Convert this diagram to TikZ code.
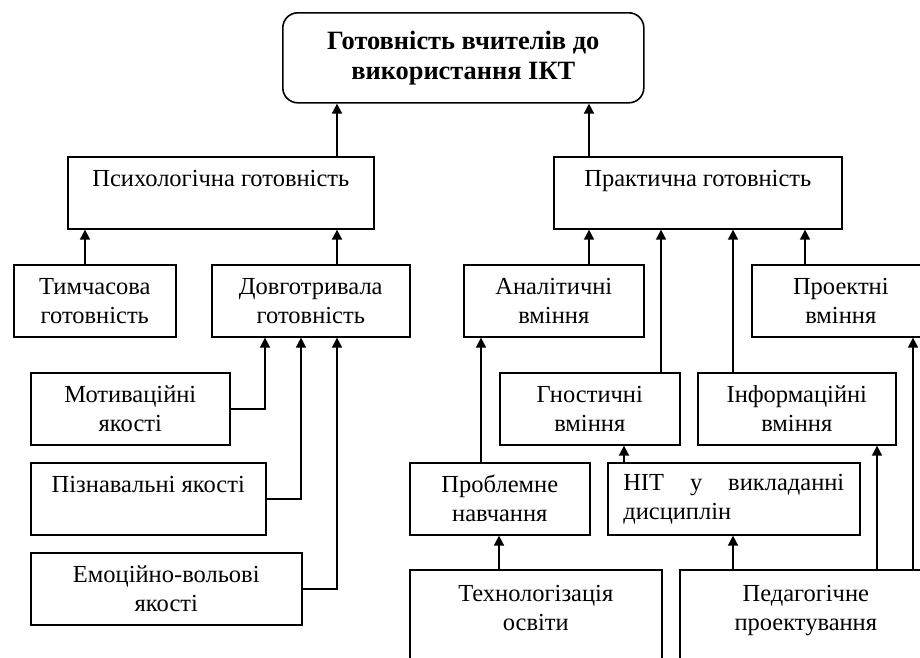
\documentclass[tikz,border=0pt]{standalone}
\usepackage{fontspec}
\setmainfont{Liberation Serif}
\usetikzlibrary{positioning}
\usetikzlibrary{arrows.meta}

\begin{document}
\begin{tikzpicture}[x=1pt,y=-1pt,
	blk/.style={draw, line width=1.6pt, anchor=north west, align=center, inner sep=0pt, font=\fontsize{24.5}{29}\selectfont},
	arr/.style={-{Triangle[length=10pt,width=10pt]}, line width=1.6pt}]
	    \useasboundingbox (0,0) rectangle (920,657);
	    \clip (0,0) rectangle (920,657);
	    \node(top) [blk, rounded corners=15pt, minimum width=361pt, minimum height=90pt, font=\bfseries\fontsize{26.4}{30}\selectfont] at (282,12) {Готовність вчителів до\\використання ІКТ};
	    \node(psych) [blk, minimum width=306pt, minimum height=72pt] at (67,156) {Психологічна готовність\\~};
	    \node(pract) [blk, minimum width=288pt, minimum height=72pt] at (553,156) {Практична готовність\\~};
	    \node(tymch) [blk, minimum width=162pt, minimum height=72pt] at (13,264) {Тимчасова\\готовність};
	    \node(dovh) [blk, minimum width=198pt, minimum height=72pt] at (211,264) {Довготривала\\готовність};
	    \node(motyv) [blk, minimum width=199pt, minimum height=72pt] at (30,372) {Мотиваційні\\якості};
	    \node(pizn) [blk, minimum width=235pt, minimum height=72pt] at (30,462) {Пізнавальні якості\\~};
	    \node(emoc) [blk, minimum width=271pt, minimum height=72pt] at (30,552) {Емоційно-вольові\\якості};
	    \node(anal) [blk, minimum width=180pt, minimum height=72pt] at (463,264) {Аналітичні\\вміння};
	    \node(proekt) [blk, minimum width=178pt, minimum height=72pt] at (751,264) {Проектні\\вміння};
	    \node(gnost) [blk, minimum width=180pt, minimum height=72pt] at (499,372) {Гностичні\\вміння};
	    \node(inform) [blk, minimum width=198pt, minimum height=72pt] at (697,372) {Інформаційні\\вміння};
	    \node(probl) [blk, minimum width=180pt, minimum height=72pt] at (409,462) {Проблемне\\навчання};
	    \node(nit) [blk, minimum width=252pt, minimum height=72pt, text width=221pt, align=left] at (607,462) {НІТ\hfill у\hfill викладанні\\дисциплін};
	    \node(tekhn) [blk, minimum width=252pt, minimum height=106pt] at (409,569) {Технологізація\\освіти\\~};
	    \node(pedag) [blk, minimum width=252pt, minimum height=106pt] at (679,569) {Педагогічне\\проектування\\~};
	    \coordinate(lc1) at (85,0);
	    \coordinate(lc2) at (265,0);
	    \coordinate(lc3) at (301,0);
	    \coordinate(lc4) at (337,0);
	    \coordinate(rc1) at (481,0);
	    \coordinate(rc2) at (499,0);
	    \coordinate(rc3) at (589,0);
	    \coordinate(rc4) at (624,0);
	    \coordinate(rc5) at (661,0);
	    \coordinate(rc6) at (733,0);
	    \coordinate(rc7) at (805,0);
	    \coordinate(rc8) at (877,0);
	    \coordinate(rc9) at (913,0);
	    \draw[arr] (psych.north -| lc4) -- (top.south -| lc4);
	    \draw[arr] (pract.north -| rc3) -- (top.south -| rc3);
	    \draw[arr] (tymch.north -| lc1) -- (psych.south -| lc1);
	    \draw[arr] (dovh.north -| lc4) -- (psych.south -| lc4);
	    \draw[arr] (motyv.east) -| (dovh.south -| lc2);
	    \draw[arr] (pizn.east) -| (dovh.south -| lc3);
	    \draw[arr] (emoc.east) -| (dovh.south -| lc4);
	    \draw[arr] (anal.north -| rc3) -- (pract.south -| rc3);
	    \draw[arr] (gnost.north -| rc5) -- (pract.south -| rc5);
	    \draw[arr] (inform.north -| rc6) -- (pract.south -| rc6);
	    \draw[arr] (proekt.north -| rc7) -- (pract.south -| rc7);
	    \draw[arr] (probl.north -| rc1) -- (anal.south -| rc1);
	    \draw[arr] (nit.north -| rc4) -- (gnost.south -| rc4);
	    \draw[arr] (tekhn.north -| rc2) -- (probl.south -| rc2);
	    \draw[arr] (pedag.north -| rc6) -- (nit.south -| rc6);
	    \draw[arr] (pedag.north -| rc8) -- (inform.south -| rc8);
	    \draw[arr] (pedag.north -| rc9) -- (proekt.south -| rc9);
	  \end{tikzpicture}
\end{document}
